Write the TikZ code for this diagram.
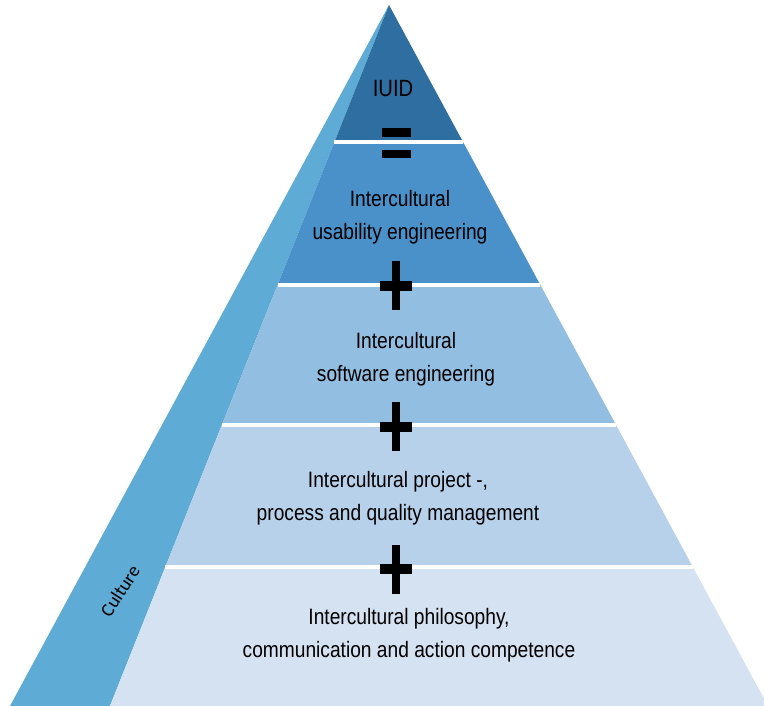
\documentclass[tikz,border=0pt]{standalone}
\usepackage{fontspec}
\setmainfont{Liberation Sans}[FakeStretch=0.86]
\newfontfamily\culturefont{Carlito}
\usetikzlibrary{calc}

\definecolor{sideblue}{RGB}{94,171,214}
\definecolor{iuidblue}{RGB}{46,110,160}
\definecolor{usablue}{RGB}{74,144,201}
\definecolor{softblue}{RGB}{146,190,225}
\definecolor{projblue}{RGB}{183,209,235}
\definecolor{philblue}{RGB}{213,226,242}

\begin{document}
\begin{tikzpicture}[x=1pt,y=-1pt,
  layertext/.style={align=center,inner sep=0pt,font=\fontsize{22.3}{33}\selectfont},
  gap/.style={white,line width=3.5pt}]
\useasboundingbox (0,0) rectangle (764,706);
\clip (0,0) rectangle (764,706);
\coordinate (apex) at (389,5);
\coordinate (outer) at (10,706);
\coordinate (left) at (110,706);
\coordinate (right) at (768,706);
\coordinate (l1) at ($(apex)!0.1954!(left)$);
\coordinate (r1) at ($(apex)!0.1954!(right)$);
\coordinate (l2) at ($(apex)!0.3994!(left)$);
\coordinate (r2) at ($(apex)!0.3994!(right)$);
\coordinate (l3) at ($(apex)!0.5991!(left)$);
\coordinate (r3) at ($(apex)!0.5991!(right)$);
\coordinate (l4) at ($(apex)!0.8017!(left)$);
\coordinate (r4) at ($(apex)!0.8017!(right)$);
% side face and layers
\fill[sideblue] (apex) -- (outer) -- (left) -- cycle;
\fill[iuidblue] (apex) -- (l1) -- (r1) -- cycle;
\fill[usablue] (l1) -- (l2) -- (r2) -- (r1) -- cycle;
\fill[softblue] (l2) -- (l3) -- (r3) -- (r2) -- cycle;
\fill[projblue] (l3) -- (l4) -- (r4) -- (r3) -- cycle;
\fill[philblue] (l4) -- (left) -- (right) -- (r4) -- cycle;
\draw[gap] (l1) -- (r1);
\draw[gap] (l2) -- (r2);
\draw[gap] (l3) -- (r3);
\draw[gap] (l4) -- (r4);
% signs
\fill (382,128) rectangle (411,137);
\fill (382,150) rectangle (411,158);
\fill (380,281) rectangle (412,291);
\fill (392,261) rectangle (400,310);
\fill (380,422) rectangle (412,432);
\fill (392,402) rectangle (400,451);
\fill (380,564) rectangle (412,574);
\fill (392,545) rectangle (400,594);
% texts
\node (iuid) [inner sep=0pt,font=\fontsize{23.5}{28}\selectfont] at (393,89) {IUID};
\node (usability) [layertext] at (400,217) {Intercultural\\usability engineering};
\node (software) [layertext] at (406,359) {Intercultural\\software engineering};
\node (project) [layertext] at (398,498) {Intercultural project -,\\process and quality management};
\node (philosophy) [layertext] at (409,635) {Intercultural philosophy,\\communication and action competence};
\node (culture) [rotate=57,inner sep=0pt,font=\culturefont\fontsize{19}{23}\selectfont] at (120,591) {Culture};
\end{tikzpicture}
\end{document}
